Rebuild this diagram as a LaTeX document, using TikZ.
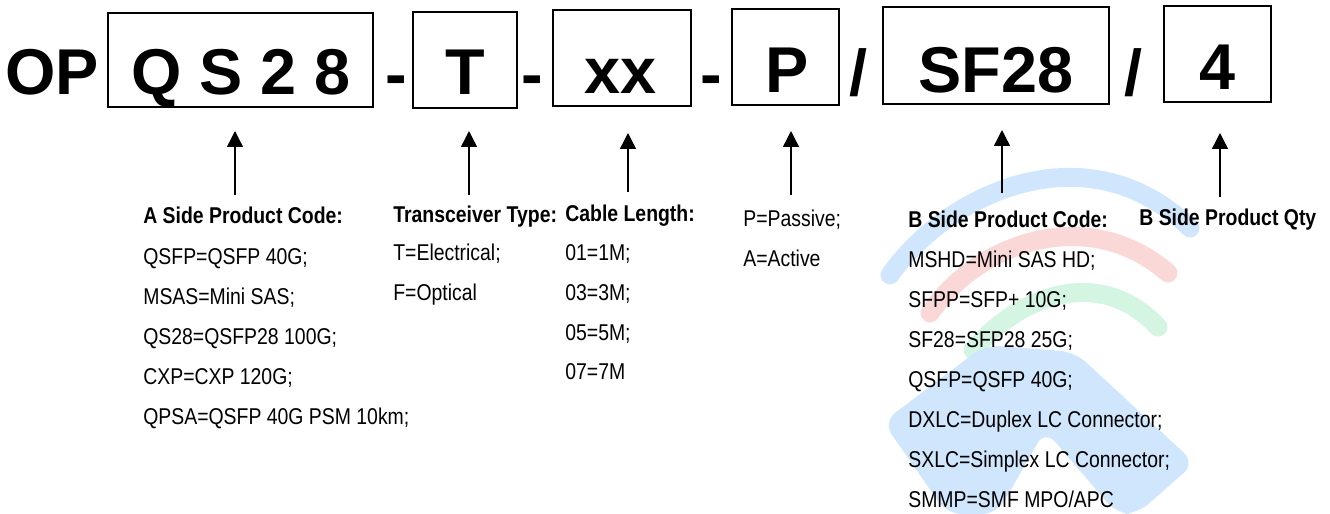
\documentclass[tikz,border=0pt]{standalone}
\usepackage{fontspec}
\setmainfont{Liberation Sans}
\newfontfamily\lblfont[FakeStretch=0.85]{Liberation Sans}
\usetikzlibrary{arrows.meta, positioning}
\definecolor{wmblue}{HTML}{CFE6FC}
\definecolor{wmred}{HTML}{FBD8D8}
\definecolor{wmgreen}{HTML}{D3F5E2}
\tikzset{
  codebox/.style={draw, line width=1pt, inner sep=0pt},
  bigtext/.style={font=\bfseries\fontsize{36.85}{40}\selectfont, anchor=base, inner sep=0pt},
  headtext/.style={font=\lblfont\bfseries\fontsize{13}{15}\selectfont, anchor=base west, inner sep=0pt},
  itemtext/.style={font=\lblfont\fontsize{13}{15}\selectfont, anchor=base west, inner sep=0pt},
  uparrow/.style={line width=0.8pt, -{Triangle[length=0.32cm,width=0.32cm]}},
  wmarc/.style={line width=0.38cm, line cap=round}
}

\begin{document}
\begin{tikzpicture}[x=0.02cm, y=-0.02cm]
\useasboundingbox (0,0) rectangle (1330,514);

% watermark
\draw[wmarc, wmblue] (890,275) .. controls (950,190) and (1090,130) .. (1190,228);
\draw[wmarc, wmred] (930,313) .. controls (980,240) and (1090,205) .. (1168,273);
\draw[wmarc, wmgreen] (973,350) .. controls (1020,295) and (1100,265) .. (1158,327);
\fill[wmblue, rounded corners=0.3cm] (883,422) -- (985,345) -- (1075,352) -- (1195,463) -- (1137,514)
  -- (1117,514) -- (1045,430) -- (997,514) -- (947,514) -- cycle;

\node[bigtext, anchor=base west] (op) at (5,94) {OP};

\node[codebox, minimum width=5.3cm, minimum height=1.88cm] (boxA) at (240.5,60) {};
\node[bigtext] (txtA) at (241,94) {Q S 2 8};
\node[bigtext] (dashA) at (396,96) {-};
\node[codebox, minimum width=2.08cm, minimum height=1.92cm] (boxT) at (465,60) {};
\node[bigtext] (txtT) at (465,94) {T};
\node[bigtext] (dashT) at (532,96) {-};
\node[codebox, minimum width=2.76cm, minimum height=1.92cm] (boxL) at (622,58) {};
\node[bigtext] (txtL) at (621,93) {xx};
\node[bigtext] (dashL) at (711,96) {-};
\node[codebox, minimum width=2.14cm, minimum height=1.92cm] (boxP) at (785.5,57) {};
\node[bigtext] (txtP) at (787,92) {P};
\node[bigtext] (slashP) at (858,95) {/};
\node[codebox, minimum width=4.52cm, minimum height=1.94cm] (boxB) at (996,55.5) {};
\node[bigtext] (txtB) at (996,92) {SF28};
\node[bigtext] (slashB) at (1133,95) {/};
\node[codebox, minimum width=2.14cm, minimum height=1.92cm] (boxQ) at (1217.5,54) {};
\node[bigtext] (txtQ) at (1217,89) {4};

\coordinate (tailA) at (235,195);
\coordinate (tipA) at (235,131);
\coordinate (tailT) at (469,195);
\coordinate (tipT) at (469,131);
\coordinate (tailL) at (628,192);
\coordinate (tipL) at (628,133);
\coordinate (tailP) at (791,195);
\coordinate (tipP) at (791,131);
\coordinate (tailB) at (1002,193);
\coordinate (tipB) at (1002,130);
\coordinate (tailQ) at (1220,197);
\coordinate (tipQ) at (1220,133);
\draw[uparrow] (tailA) -- (tipA);
\draw[uparrow] (tailT) -- (tipT);
\draw[uparrow] (tailL) -- (tipL);
\draw[uparrow] (tailP) -- (tipP);
\draw[uparrow] (tailB) -- (tipB);
\draw[uparrow] (tailQ) -- (tipQ);

\node[headtext] (headA) at (143,223) {A Side Product Code:};
\node[itemtext] (itemA1) at (143,264) {QSFP=QSFP 40G;};
\node[itemtext] (itemA2) at (143,304) {MSAS=Mini SAS;};
\node[itemtext] (itemA3) at (143,344) {QS28=QSFP28 100G;};
\node[itemtext] (itemA4) at (143,384) {CXP=CXP 120G;};
\node[itemtext] (itemA5) at (143,424) {QPSA=QSFP 40G PSM 10km;};

\node[headtext] (headT) at (393,222) {Transceiver Type:};
\node[itemtext] (itemT1) at (393,260) {T=Electrical;};
\node[itemtext] (itemT2) at (393,300) {F=Optical};

\node[headtext] (headL) at (565,221) {Cable Length:};
\node[itemtext] (itemL1) at (565,260) {01=1M;};
\node[itemtext] (itemL2) at (565,300) {03=3M;};
\node[itemtext] (itemL3) at (565,340) {05=5M;};
\node[itemtext] (itemL4) at (565,379) {07=7M};

\node[itemtext] (itemP1) at (743,226) {P=Passive;};
\node[itemtext] (itemP2) at (743,266) {A=Active};

\node[headtext] (headB) at (908,227) {B Side Product Code:};
\node[itemtext] (itemB1) at (908,267) {MSHD=Mini SAS HD;};
\node[itemtext] (itemB2) at (908,307) {SFPP=SFP+ 10G;};
\node[itemtext] (itemB3) at (908,347) {SF28=SFP28 25G;};
\node[itemtext] (itemB4) at (908,387) {QSFP=QSFP 40G;};
\node[itemtext] (itemB5) at (908,427) {DXLC=Duplex LC Connector;};
\node[itemtext] (itemB6) at (908,467) {SXLC=Simplex LC Connector;};
\node[itemtext] (itemB7) at (908,507) {SMMP=SMF MPO/APC};

\node[headtext] (headQ) at (1139,225) {B Side Product Qty};
\end{tikzpicture}
\end{document}
